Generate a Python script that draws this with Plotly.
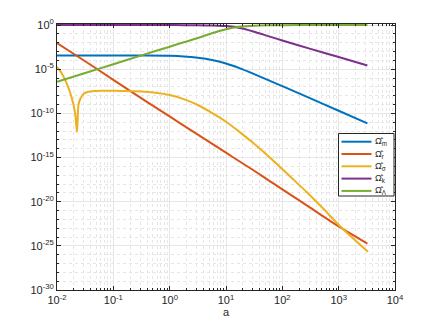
import numpy as np
import plotly.graph_objects as go

# log10(a) sample points
log_a = [-2.0, -1.5, -1.0, -0.5, 0.0, 0.25, 0.5, 0.75, 1.0, 1.25, 1.5, 1.75,
         2.0, 2.5, 3.0, 3.51]

# log10 of each density parameter at those points
log_om_m = [-3.44, -3.44, -3.44, -3.45, -3.48, -3.55, -3.7, -3.95, -4.35,
            -4.9, -5.55, -6.23, -6.92, -8.3, -9.7, -11.13]
log_om_r = [-2.03, -4.1, -6.2, -8.3, -10.35, -11.38, -12.4, -13.42, -14.45,
            -15.48, -16.5, -17.55, -18.6, -20.7, -22.8, -24.75]
log_om_k = [-0.005, -0.005, -0.005, -0.005, -0.006, -0.01, -0.02, -0.05, -0.12,
            -0.33, -0.75, -1.25, -1.75, -2.7, -3.62, -4.58]
log_om_l = [-6.43, -5.43, -4.43, -3.43, -2.45, -1.95, -1.47, -0.92, -0.47,
            -0.2, -0.07, -0.025, -0.01, -0.005, -0.005, -0.005]

# sigma term has its own sampling (sharp dip near a ~ 0.023)
log_a_s = [-2.0, -1.917, -1.83, -1.74, -1.68, -1.645, -1.62, -1.59, -1.53,
           -1.445, -1.35, -1.21, -1.0, -0.5, -0.25, 0.0, 0.25, 0.5, 0.75,
           1.0, 1.25, 1.5, 1.835, 2.13, 2.43, 2.72, 3.02, 3.52]
log_om_s = [-4.73, -5.45, -6.58, -8.2, -9.9, -12.1, -9.1, -8.4, -7.8,
            -7.55, -7.48, -7.45, -7.45, -7.52, -7.66, -7.92, -8.38, -9.05,
            -9.95, -10.95, -12.15, -13.45, -15.33, -17.1, -18.9, -20.75,
            -22.75, -25.67]

# tick labels
x_tick_exp = [-2, -1, 0, 1, 2, 3, 4]
y_tick_exp = [-30, -25, -20, -15, -10, -5, 0]

names = ["Ω̂<sub>m</sub>", "Ω̂<sub>r</sub>", "Ω̂<sub>σ</sub>",
         "Ω̂<sub>k</sub>", "Ω̂<sub>Λ</sub>"]
colors = ["#0072BD", "#D95319", "#EDB120", "#7E2F8E", "#77AC30"]

series = [
    (log_a, log_om_m),
    (log_a, log_om_r),
    (log_a_s, log_om_s),
    (log_a, log_om_k),
    (log_a, log_om_l),
]

FONT = "Liberation Sans, Arial, sans-serif"
INK = "#262626"

fig = go.Figure()
for (xs, ys), name, col in zip(series, names, colors):
    fig.add_trace(go.Scatter(
        x=10 ** np.array(xs, dtype=float), y=10 ** np.array(ys, dtype=float),
        mode="lines", name=name, showlegend=False,
        line=dict(color=col, width=2, shape="spline", smoothing=0.8),
    ))

axis_common = dict(
    type="log", automargin=False,
    showline=True, linecolor=INK, linewidth=1, mirror="ticks",
    ticks="inside", ticklen=4, tickcolor=INK,
    showgrid=True, gridcolor="#e6e6e6", gridwidth=1,
    tickfont=dict(family=FONT, size=11, color=INK),
    zeroline=False,
)

fig.update_xaxes(
    **axis_common,
    range=[-2, 4],
    tickvals=[10.0 ** e for e in x_tick_exp],
    ticktext=[f"10<sup>{e}</sup>" for e in x_tick_exp],
    minor=dict(dtick="D1", ticks="inside", ticklen=2, tickcolor=INK,
               showgrid=True, gridcolor="#e6e6e6", griddash="dot"),
    title=dict(text="a", font=dict(family=FONT, size=11, color=INK),
               standoff=1),
)
fig.update_yaxes(
    **axis_common,
    range=[-30, 0.12],
    tickvals=[10.0 ** e for e in y_tick_exp],
    ticktext=[f"10<sup>{e}</sup>" for e in y_tick_exp],
    minor=dict(dtick=1, ticks="inside", ticklen=2, tickcolor=INK,
               showgrid=True, gridcolor="#e6e6e6", griddash="dot"),
)

# hand-drawn legend box (MATLAB-style compact rows), placed in plot-area pixels
PLOT_L, PLOT_R, PLOT_T, PLOT_B = 57, 395, 24, 290


def px_x(p):
    return (p - PLOT_L) / (PLOT_R - PLOT_L)


def px_y(p):
    return (PLOT_B - p) / (PLOT_B - PLOT_T)


shapes = [dict(type="rect", xref="paper", yref="paper",
               x0=px_x(338.5), x1=px_x(394), y0=px_y(196), y1=px_y(133.5),
               line=dict(color=INK, width=1), fillcolor="white", layer="above")]
annotations = []
for i, (name, col) in enumerate(zip(names, colors)):
    ry = 141.7 + i * 12.3
    shapes.append(dict(type="line", xref="paper", yref="paper",
                       x0=px_x(341.5), x1=px_x(371.5), y0=px_y(ry), y1=px_y(ry),
                       line=dict(color=col, width=2), layer="above"))
    annotations.append(dict(xref="paper", yref="paper", x=px_x(372.5), y=px_y(ry),
                            xanchor="left", yanchor="middle", showarrow=False,
                            text=name, font=dict(family=FONT, size=9, color=INK)))

# the page body adds an 8px margin, so the figure is 8px smaller and shifted
fig.update_layout(
    width=428, height=319,
    margin=dict(l=49, r=41, t=16, b=37),
    paper_bgcolor="white", plot_bgcolor="white",
    shapes=shapes, annotations=annotations,
    showlegend=False,
)

fig.write_html("out.html")
